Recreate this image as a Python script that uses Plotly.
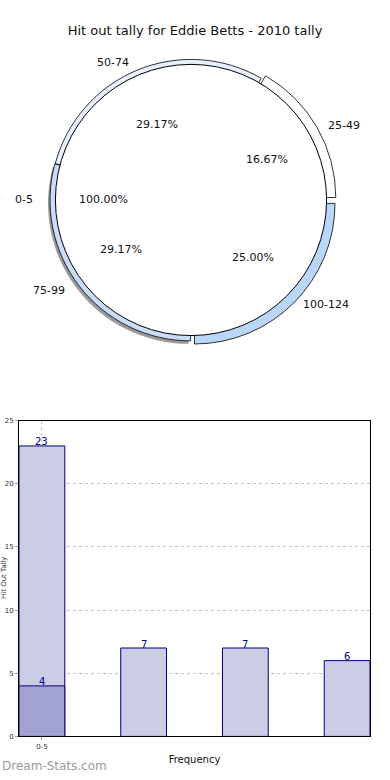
import math
import plotly.graph_objects as go

# ---------------- data ----------------
chart_title = "Hit out tally for Eddie Betts - 2010 tally"
inner_labels = ["0-5"]
inner_values = [24]
ring_labels = ["25-49", "50-74", "75-99", "100-124"]
ring_values = [4, 7, 7, 6]

bar_x = [0, 1, 2, 3]
bar_values = [23, 7, 7, 6]
bar_inner_x = [0]
bar_inner_values = [4]
x_tick_vals = [0]
x_tick_text = ["0-5"]
y_tick_vals = [0, 5, 10, 15, 20, 25]
x_title = "Frequency"
y_title = "Hit Out Tally"
watermark = "Dream-Stats.com"

# ---------------- styles ----------------
W, H = 390, 780
FONT = "DejaVu Sans"
ring_colors = ["#ffffff", "#e8effc", "#c9ddf9", "#b9d7fa"]
shadow_colors = ["rgba(0,0,0,0)", "rgba(0,0,0,0)", "#9a9a9a", "rgba(0,0,0,0)"]
ring_pull = [0.035, 0.0, 0.004, 0.035]
CX, CY = 191, 198          # pie centre in pixels
R_IN = 137                 # inner pie radius (drawn over the ring)
R_RING = 142               # ring outer radius
R_HOLE = 126               # ring inner radius


def px_x(x):
    return x / W


def px_y(y):
    return 1 - y / H


def pie_domain(cx, cy, r, pull=0.0):
    half = r * (1 + pull)
    return dict(x=[px_x(cx - half), px_x(cx + half)],
                y=[px_y(cy + half), px_y(cy - half)])


total = sum(ring_values)
# plotly (counterclockwise): first slice spans [rotation, rotation + size]
# measured clockwise from 12 o'clock -> start the first slice at 3 o'clock
rotation = 90 - 360 * ring_values[0] / total

fig = go.Figure()
maxp = max(ring_pull)

# drop shadow under the lower-left part of the ring
fig.add_trace(go.Pie(
    labels=ring_labels, values=ring_values, sort=False,
    direction="counterclockwise", rotation=rotation, pull=ring_pull,
    domain=pie_domain(CX - 2, CY + 3, R_RING, maxp),
    marker=dict(colors=shadow_colors, line=dict(width=0)),
    textinfo="none", hoverinfo="skip", showlegend=False))

# outer ring
fig.add_trace(go.Pie(
    labels=ring_labels, values=ring_values, sort=False,
    direction="counterclockwise", rotation=rotation,
    hole=R_HOLE / R_RING, pull=ring_pull,
    domain=pie_domain(CX, CY, R_RING, maxp),
    marker=dict(colors=ring_colors, line=dict(color="#000000", width=0.8)),
    textinfo="none", hoverinfo="label+percent", showlegend=False))

# inner full pie
fig.add_trace(go.Pie(
    labels=inner_labels, values=inner_values, sort=False,
    domain=pie_domain(CX, CY, R_IN),
    marker=dict(colors=["#ffffff"], line=dict(color="#000000", width=1)),
    textinfo="none", hoverinfo="label+percent", showlegend=False))

LBL = dict(family=FONT, size=11, color="#111111")
annotations = []


def add_labels(lab, pct, mid):
    annotations.append(dict(
        x=px_x(CX + 88 * math.cos(mid)), y=px_y(CY - 82 * math.sin(mid)),
        xref="paper", yref="paper", xanchor="center", yanchor="middle",
        text=pct, showarrow=False, font=LBL))
    c = math.cos(mid)
    xa = "left" if c > 0.05 else ("right" if c < -0.05 else "center")
    annotations.append(dict(
        x=px_x(CX + 156 * c), y=px_y(CY - 150 * math.sin(mid)),
        xref="paper", yref="paper", xanchor=xa, yanchor="middle",
        text=lab, showarrow=False, font=LBL))


cum = 0.0
for lab, v in zip(ring_labels, ring_values):
    mid = (cum + v / 2) / total * 2 * math.pi
    cum += v
    add_labels(lab, f"{v / total * 100:.2f}%", mid)

inner_total = sum(inner_values)
for lab, v in zip(inner_labels, inner_values):
    add_labels(lab, f"{v / inner_total * 100:.2f}%", math.pi)

# ---------------- bar chart ----------------
fig.add_trace(go.Bar(
    x=bar_x, y=bar_values, width=0.45,
    marker=dict(color="#ccccE6", line=dict(color="#000080", width=1)),
    showlegend=False, xaxis="x", yaxis="y", hoverinfo="y"))
fig.add_trace(go.Bar(
    x=bar_inner_x, y=bar_inner_values, width=0.45,
    marker=dict(color="#a3a3d1", line=dict(color="#000080", width=1)),
    showlegend=False, xaxis="x", yaxis="y", hoverinfo="y"))

for xs, ys in ((bar_x, bar_values), (bar_inner_x, bar_inner_values)):
    for xv, yv in zip(xs, ys):
        annotations.append(dict(
            x=xv, y=yv, xref="x", yref="y", text=str(yv), showarrow=False,
            xanchor="center", yanchor="middle", yshift=4,
            font=dict(family=FONT, size=10, color="#000080")))

annotations.append(dict(
    x=px_x(4), y=px_y(580), xref="paper", yref="paper", text=y_title,
    textangle=-90, showarrow=False, xanchor="center", yanchor="middle",
    font=dict(family=FONT, size=7, color="#333333")))
annotations.append(dict(
    x=0, y=px_y(770), xref="paper", yref="paper", xanchor="left",
    yanchor="middle", text=watermark, showarrow=False,
    font=dict(family=FONT, size=12, color="#9a9a9a")))

fig.update_layout(
    width=W, height=H, autosize=False,
    margin=dict(l=0, r=0, t=0, b=0),
    paper_bgcolor="#ffffff", plot_bgcolor="#ffffff",
    font=dict(family=FONT, color="#111111"),
    title=dict(text=chart_title, x=0.5, xanchor="center",
               y=px_y(30), yanchor="middle", yref="container",
               font=dict(family=FONT, size=13, color="#111111")),
    barmode="overlay",
    xaxis=dict(domain=[px_x(19), px_x(370)], range=[-0.225, 3.225],
               tickvals=x_tick_vals, ticktext=x_tick_text,
               tickfont=dict(size=7, color="#333333"),
               ticks="outside", ticklen=3, tickcolor="#999999",
               showgrid=True, gridcolor="#c4c4c4", griddash="dot",
               showline=True, linecolor="#000000", linewidth=1, mirror=True,
               zeroline=False,
               title=dict(text=x_title, font=dict(size=10, color="#111111"),
                          standoff=6)),
    yaxis=dict(domain=[px_y(740), px_y(421)], range=[0, 25],
               tickvals=y_tick_vals,
               tickfont=dict(size=7, color="#333333"),
               ticks="outside", ticklen=3, tickcolor="#999999",
               showgrid=True, gridcolor="#c4c4c4", griddash="dot",
               showline=True, linecolor="#000000", linewidth=1, mirror=True,
               zeroline=False),
    annotations=annotations,
)

fig.write_html("out.html", config={"displayModeBar": False},
               post_script="document.body.style.margin='0';")
